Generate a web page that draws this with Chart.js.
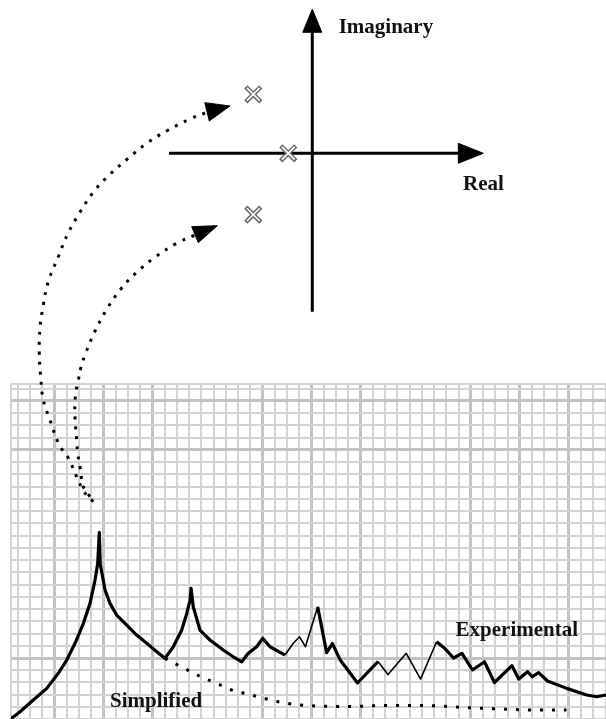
<!DOCTYPE html>
<html><head><meta charset="utf-8">
<script src="https://cdn.jsdelivr.net/npm/chart.js@4.4.1/dist/chart.umd.min.js"></script>
<style>
html,body{margin:0;padding:0;background:#fff;}
#wrap{position:relative;width:606px;height:719px;overflow:hidden;background:#fff;}
#wrap canvas{position:absolute;left:0;top:0;}
#pz{pointer-events:none;}
</style></head><body>
<div id="wrap"><canvas id="resp" width="606" height="719"></canvas><canvas id="pz" width="606" height="719"></canvas></div>
<script>
// ---------- Frequency response (grid units) ----------
const gridXMin = -0.55, gridXMax = 48.03;
const gridYMin = -0.98, gridYMax = 26.37;
const majorX = [3, 7, 11, 20, 24, 28, 37, 41, 45];
const majorY = [25, 21, 4];

const expU = [-0.55,0.19,1.27,2.37,3.31,4.0,4.68,5.36,5.90,6.31,6.53,6.66,6.74,6.86,7.13,7.53,8.08,8.90,9.71,10.53,11.35,12.02,12.70,13.39,13.80,14.07,14.15,14.33,14.88,15.69,16.78,17.60,18.29,18.82,19.51,20.0,20.60,21.82,22.50,23.01,23.49,24.49,25.22,25.69,26.33,27.74,29.41,30.23,31.72,32.89,34.20,34.9,35.58,36.27,37.13,38.11,38.92,40.35,40.90,41.63,42.0,42.53,43.25,44.82,46.45,47.27,48.03];
const expV = [-0.95,-0.39,0.57,1.52,2.75,3.83,5.20,6.83,8.46,10.36,11.73,14.26,11.59,11.02,9.55,8.46,7.51,6.69,5.87,5.20,4.51,3.97,4.92,6.28,7.64,8.73,9.69,8.18,6.28,5.47,4.65,4.10,3.69,4.38,4.92,5.60,4.92,4.24,5.20,5.73,4.92,8.18,4.44,5.18,3.83,1.96,3.71,2.65,4.38,2.28,5.33,4.75,4.0,4.38,3.02,3.69,2.0,3.38,2.28,2.88,2.47,2.80,2.12,1.52,0.98,0.84,0.98];

const simpU = [12.02,13.39,14.96,16.23,17.49,18.76,20.02,21.27,22.54,24.43,26.96,30.11,33.25,36.43,39.58,42.72,44.80];
const simpV = [3.97,3.26,2.47,1.93,1.38,1.06,0.73,0.43,0.22,0.08,0.04,0.13,0.12,-0.04,-0.17,-0.25,-0.25];

const respLabels = [
  {text: 'Experimental', x: 35.75, y: 5.82},
  {text: 'Simplified', x: 7.53, y: 0.0}
];

// ---------- Pole-zero plane (real / imaginary units) ----------
const planeXMin = -5.293, planeXMax = 4.978;
const planeYMin = -9.588, planeYMax = 2.598;
const realAxisX = [-2.429, 2.48];
const imagAxisY = [-2.685, 2.06];
const realHeadX = [2.475, 2.898, 2.475, 2.475];
const realHeadY = [0.169, 0, -0.169, 0.169];
const imagHeadX = [-0.161, 0, 0.161, -0.161];
const imagHeadY = [2.051, 2.441, 2.051, 2.051];

const polesRe = [-1.0, -1.0, -0.407];
const polesIm = [1.0, -1.04, 0];

const outerArcX = [-3.712,-3.886,-4.136,-4.288,-4.446,-4.559,-4.603,-4.627,-4.615,-4.559,-4.475,-4.305,-4.146,-3.949,-3.712,-3.429,-3.119,-2.807,-2.441,-2.073,-1.80];
const outerArcY = [-5.905,-5.707,-5.164,-4.944,-4.520,-4.181,-3.786,-3.385,-2.961,-2.571,-2.176,-1.753,-1.368,-1.017,-0.661,-0.356,-0.085,0.169,0.395,0.581,0.69];
const innerArcX = [-3.768,-3.881,-3.937,-3.976,-3.993,-4.022,-4.014,-3.966,-3.925,-3.853,-3.695,-3.497,-3.259,-2.976,-2.654,-2.298,-2.0];
const innerArcY = [-5.820,-5.651,-5.312,-5.085,-4.859,-4.464,-4.097,-3.854,-3.644,-3.419,-3.041,-2.668,-2.317,-2.017,-1.753,-1.525,-1.39];
const outerHeadX = [-1.822, -1.395, -1.746, -1.822];
const outerHeadY = [0.858, 0.802, 0.547, 0.858];
const innerHeadX = [-2.044, -1.610, -1.932, -2.044];
const innerHeadY = [-1.244, -1.227, -1.515, -1.244];

const planeLabels = [
  {text: 'Imaginary', x: 0.447, y: 2.039},
  {text: 'Real', x: 2.554, y: -0.615}
];

// ---------- helpers ----------
const zip = (xs, ys) => xs.map((x, i) => ({x, y: ys[i]}));
const textPlugin = {
  id: 'texts',
  afterDatasetsDraw(chart, args, opts) {
    const {ctx, scales: {x, y}} = chart;
    ctx.save();
    ctx.font = opts.font;
    ctx.fillStyle = opts.color;
    ctx.textAlign = 'left';
    ctx.textBaseline = 'alphabetic';
    (opts.items || []).forEach(it => ctx.fillText(it.text, x.getPixelForValue(it.x), y.getPixelForValue(it.y)));
    ctx.restore();
  }
};
const LABEL_FONT = 'bold 21px "Liberation Serif", "DejaVu Serif", serif';
const thinRanges = [[21.8, 24.5], [29.4, 34.2]];
const isThin = (a, b) => thinRanges.some(r => a >= r[0] - 0.01 && b <= r[1] + 0.01);

function gridTicks(min, max) {
  const t = [min];
  for (let i = Math.ceil(min); i <= Math.floor(max); i++) t.push(i);
  if (max > Math.floor(max) + 0.2) t.push(max);
  return t;
}

// ---------- response chart ----------
new Chart(document.getElementById('resp'), {
  type: 'scatter',
  data: {
    datasets: [
      {
        label: 'Experimental',
        data: zip(expU, expV),
        showLine: true, borderColor: '#000', borderWidth: 3.2,
        pointRadius: 0, pointHoverRadius: 0, tension: 0,
        borderJoinStyle: 'round',
        segment: { borderWidth: c => isThin(c.p0.parsed.x, c.p1.parsed.x) ? 1.6 : 3.2 }
      },
      {
        label: 'Simplified',
        data: zip(simpU, simpV),
        showLine: true, borderColor: '#000', borderWidth: 3,
        borderDash: [3, 9], pointRadius: 0, pointHoverRadius: 0,
        tension: 0.4, cubicInterpolationMode: 'monotone'
      }
    ]
  },
  options: {
    responsive: false, animation: false, devicePixelRatio: 1, events: [],
    layout: { autoPadding: false, padding: { left: 11, top: 384, right: 0, bottom: 0 } },
    plugins: {
      legend: { display: false }, tooltip: { enabled: false },
      texts: { items: respLabels, font: LABEL_FONT, color: '#111' }
    },
    scales: {
      x: {
        type: 'linear', min: gridXMin, max: gridXMax,
        afterBuildTicks: s => { s.ticks = gridTicks(gridXMin, gridXMax).map(v => ({value: v})); },
        ticks: { display: false },
        border: { display: false },
        grid: {
          drawTicks: false,
          color: c => majorX.includes(c.tick.value) ? '#c2c2c2' : '#d3d3d3',
          lineWidth: c => majorX.includes(c.tick.value) ? 3 : 2
        }
      },
      y: {
        type: 'linear', min: gridYMin, max: gridYMax,
        afterBuildTicks: s => { s.ticks = gridTicks(gridYMin, gridYMax).map(v => ({value: v})); },
        ticks: { display: false },
        border: { display: false },
        grid: {
          drawTicks: false,
          color: c => majorY.includes(c.tick.value) ? '#c2c2c2' : '#d3d3d3',
          lineWidth: c => majorY.includes(c.tick.value) ? 3 : 2
        }
      }
    }
  },
  plugins: [textPlugin]
});

// ---------- pole-zero overlay ----------
const lineDs = (data, extra) => Object.assign({
  data, showLine: true, borderColor: '#000', backgroundColor: '#000',
  borderWidth: 3, pointRadius: 0, pointHoverRadius: 0, tension: 0, clip: false
}, extra || {});

new Chart(document.getElementById('pz'), {
  type: 'scatter',
  data: {
    datasets: [
      { label: 'poles-inner', data: zip(polesRe, polesIm), pointStyle: 'crossRot',
        pointRadius: 9, borderColor: '#fff', borderWidth: 1.6, backgroundColor: '#fff' },
      { label: 'poles', data: zip(polesRe, polesIm), pointStyle: 'crossRot',
        pointRadius: 10.6, borderColor: '#6a6a6a', borderWidth: 4.6, backgroundColor: '#6a6a6a' },
      lineDs(zip(realAxisX, [0, 0]), { label: 'Real axis' }),
      lineDs(zip([0, 0], imagAxisY), { label: 'Imaginary axis' }),
      lineDs(zip(realHeadX, realHeadY), { fill: 'shape', borderWidth: 1 }),
      lineDs(zip(imagHeadX, imagHeadY), { fill: 'shape', borderWidth: 1 }),
      lineDs(zip(outerArcX, outerArcY), { borderDash: [3, 7], tension: 0.4, label: 'outer path' }),
      lineDs(zip(innerArcX, innerArcY), { borderDash: [3, 7], tension: 0.4, label: 'inner path' }),
      lineDs(zip(outerHeadX, outerHeadY), { fill: 'shape', borderWidth: 1 }),
      lineDs(zip(innerHeadX, innerHeadY), { fill: 'shape', borderWidth: 1 })
    ]
  },
  options: {
    responsive: false, animation: false, devicePixelRatio: 1, events: [],
    layout: { autoPadding: false, padding: 0 },
    plugins: {
      legend: { display: false }, tooltip: { enabled: false },
      texts: { items: planeLabels, font: LABEL_FONT, color: '#111' }
    },
    scales: {
      x: { type: 'linear', display: false, min: planeXMin, max: planeXMax },
      y: { type: 'linear', display: false, min: planeYMin, max: planeYMax }
    }
  },
  plugins: [textPlugin]
});
</script>
</body></html>
